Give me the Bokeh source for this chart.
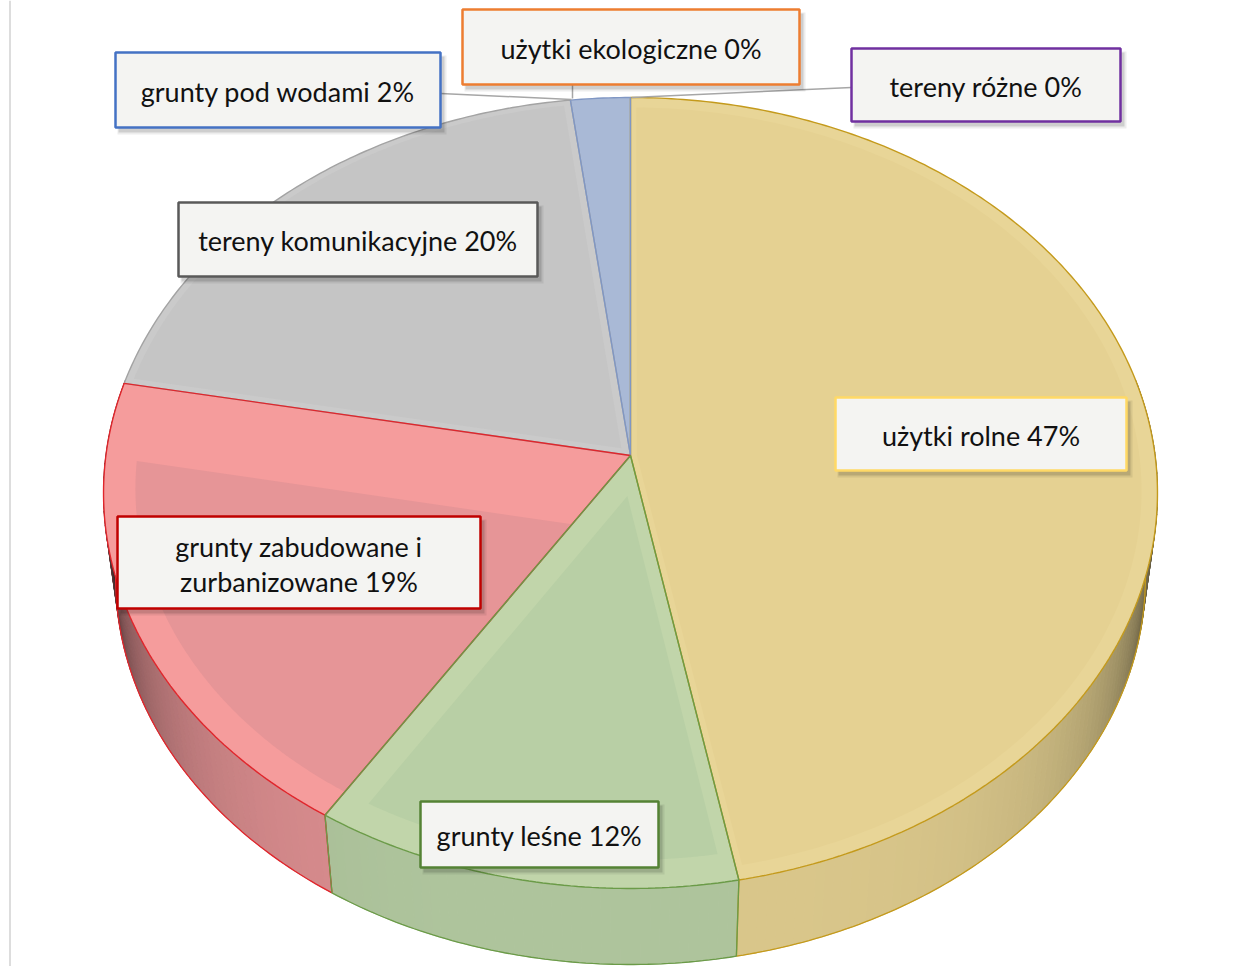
import numpy as np
from bokeh.plotting import figure
from bokeh.models import Range1d
from bokeh.embed import file_html
from bokeh.resources import INLINE
from bokeh.core.properties import value

# ---------------- data ----------------
categories = ["użytki rolne", "grunty leśne", "grunty zabudowane i zurbanizowane",
              "tereny komunikacyjne", "grunty pod wodami", "użytki ekologiczne", "tereny różne"]
percent = [47, 12, 19, 20, 2, 0, 0]

# ---------------- styles ----------------
top_colors = ["#E5D192", "#B8CFA5", "#E69597", "#C5C5C5", "#A9B9D6", "#F4B183", "#B4A0D0"]
band_colors = ["#E8D597", "#C1D5AA", "#F59C9C", "#CACACA", "#A9B9D6", "#F4B183", "#B4A0D0"]
edge_colors = ["#C49A1C", "#6B9B48", "#E0262C", "#A3A3A3", "#8097C4", "#ED7D31", "#7030A0"]
bevel = [(0.012, 0.012, 0.03), (0.025, 0.05, 0.06), (0.0, 0.19, 0.06),
         (0.015, 0.015, 0.015), None, None, None]
outline_order = [0, 3, 4, 2, 1]
box_borders = ["#FFD966", "#548235", "#C00000", "#595959", "#4472C4", "#ED7D31", "#7030A0"]
# label boxes (left, top, right, bottom) in page pixels
boxes = [(835, 397, 1126, 470), (420, 801, 658, 867), (117, 516, 480, 608),
         (178, 202, 537, 276), (115, 52, 440, 127), (462, 9, 799, 84), (851, 48, 1120, 121)]
wrap_after = {2: "i"}
leaders = [None, None, None, None, ((440, 93), (571, 99)), ((572, 84), (572, 98)),
           ((851, 87), (631, 97))]

# projection geometry of the tilted disc
CX, CY, A, B, K = 630.0, 455.0, 524.6, 391.9, 0.0948
SB, CYB = 0.977, 541.0


def proj(u, v, bottom=False):
    u = np.asarray(u, float)
    v = np.asarray(v, float)
    a, b, cy = (A * SB, B * SB, CYB) if bottom else (A, B, CY)
    d = 1 + K * v
    return CX + a * u / d, cy - b * v / d


def arc(t0, t1, bottom=False, r=1.0):
    n = max(3, int(abs(t0 - t1) / np.radians(0.7)) + 2)
    t = np.linspace(t0, t1, n)
    return proj(r * np.cos(t), r * np.sin(t), bottom)


W, H = 1233, 966
p = figure(width=W, height=H, x_range=Range1d(0, W), y_range=Range1d(H, 0),
           output_backend="svg", toolbar_location=None, min_border=0)
p.axis.visible = False
p.grid.visible = False
p.outline_line_color = None
p.background_fill_color = "white"

# thin page border line at left
p.line([9.5, 9.5], [0, 980], line_color="#DDDDDD", line_width=2)

total = float(sum(percent))
starts, ends = [], []
cum = 0.0
for v in percent:
    a0 = np.pi / 2 - 2 * np.pi * cum / total
    cum += v
    a1 = np.pi / 2 - 2 * np.pi * cum / total
    starts.append(a0)
    ends.append(a1)


def hex2rgb(h):
    h = h.lstrip("#")
    return tuple(int(h[i:i + 2], 16) for i in (0, 2, 4))


def shade_col(h, f):
    r, g, b = hex2rgb(h)
    return "#%02x%02x%02x" % tuple(int(max(0, min(255, c * f))) for c in (r, g, b))


# ---------------- side walls ----------------
LO, HI = -np.pi - 0.2, 0.2
xs, ys, cols = [], [], []
side_ranges = {}
for i, v in enumerate(percent):
    if v <= 0:
        continue
    s0 = min(starts[i], HI)
    s1 = max(ends[i], LO)
    if s0 <= s1:
        continue
    side_ranges[i] = (s0, s1)
    n = max(2, int((s0 - s1) / np.radians(1.0)) + 1)
    tt = np.linspace(s0, s1, n + 1)
    for j in range(n):
        ta, tb = tt[j], tt[j + 1]
        xa, ya = proj([np.cos(ta), np.cos(tb)], [np.sin(ta), np.sin(tb)])
        xb, yb = proj([np.cos(tb), np.cos(ta)], [np.sin(tb), np.sin(ta)], bottom=True)
        xs.append(list(xa) + list(xb))
        ys.append(list(ya) + list(yb))
        tm = 0.5 * (ta + tb)
        s = max(0.0, min(1.0, -np.sin(tm)))
        f = 0.95 * (1 - 0.88 * (1 - s) ** 2.0)
        cols.append(shade_col(top_colors[i], f))
p.patches(xs, ys, fill_color=cols, line_color=cols, line_width=1)

# side outlines
for i in outline_order:
    if i not in side_ranges:
        continue
    s0, s1 = side_ranges[i]
    bx, by = arc(s0, s1, bottom=True)
    p.line(bx, by, line_color=edge_colors[i], line_width=1.3)
    for t in (starts[i], ends[i]):
        if -np.pi < t < 0:
            tx, ty = proj(np.cos(t), np.sin(t))
            qx, qy = proj(np.cos(t), np.sin(t), bottom=True)
            p.line([float(tx), float(qx)], [float(ty), float(qy)],
                   line_color=edge_colors[i], line_width=1.3)

# ---------------- top faces ----------------
outlines = {}
for i, v in enumerate(percent):
    if v <= 0:
        continue
    a0, a1 = starts[i], ends[i]
    ax, ay = arc(a0, a1)
    cx0, cy0 = proj(0.0, 0.0)
    px = [float(cx0)] + list(ax)
    py = [float(cy0)] + list(ay)
    outlines[i] = (px, py)
    p.patch(px, py, fill_color=band_colors[i], line_color=None)
    bv = bevel[i]
    if bv is not None:
        d0, d1, da = bv
        n0 = np.array([np.sin(a0), -np.cos(a0)])
        n1 = np.array([-np.sin(a1), np.cos(a1)])
        apex = np.linalg.solve(np.array([n0, n1]), np.array([d0, d1]))
        r = 1 - da
        t0 = a0 - np.arcsin(d0 / r)
        t1 = a1 + np.arcsin(d1 / r)
        tt = np.linspace(t0, t1, 200)
        ix, iy = proj(np.concatenate([[apex[0]], r * np.cos(tt)]),
                      np.concatenate([[apex[1]], r * np.sin(tt)]))
        p.patch(ix, iy, fill_color=top_colors[i], line_color=None)

for i in outline_order:
    if i in outlines:
        px, py = outlines[i]
        p.patch(px, py, fill_color=None, line_color=edge_colors[i], line_width=1.4)

# ---------------- leader lines ----------------
for ld in leaders:
    if ld is None:
        continue
    (x0, y0), (x1, y1) = ld
    p.line([x0, x1], [y0, y1], line_color="#A6A6A6", line_width=1.5)

# ---------------- labels ----------------
FONT = "Lato"
for i, cat in enumerate(categories):
    l, t, r, b = boxes[i]
    # shadow
    p.quad(left=l + 2, right=r + 6, top=t + 3, bottom=b + 7, fill_color="black",
           fill_alpha=0.07, line_color=None)
    p.quad(left=l + 3, right=r + 4, top=t + 4, bottom=b + 5, fill_color="black",
           fill_alpha=0.13, line_color=None)
    p.quad(left=l, right=r, top=t, bottom=b, fill_color="#F4F4F2",
           line_color=box_borders[i], line_width=2.5)
    txt = f"{cat} {percent[i]}%"
    if i in wrap_after:
        w = wrap_after[i]
        k = txt.index(" " + w + " ") + len(w) + 1
        lines = [txt[:k], txt[k + 1:]]
    else:
        lines = [txt]
    cxl = (l + r) / 2
    cyl = (t + b) / 2
    lh = 35
    for j, ln in enumerate(lines):
        yy = cyl + (j - (len(lines) - 1) / 2) * lh
        p.text(x=[cxl], y=[yy + 1], text=[ln], text_align="center", text_baseline="middle",
               text_font=value(FONT), text_font_size="27px", text_color="#111111")

open("out.html", "w").write(file_html(p, INLINE))
